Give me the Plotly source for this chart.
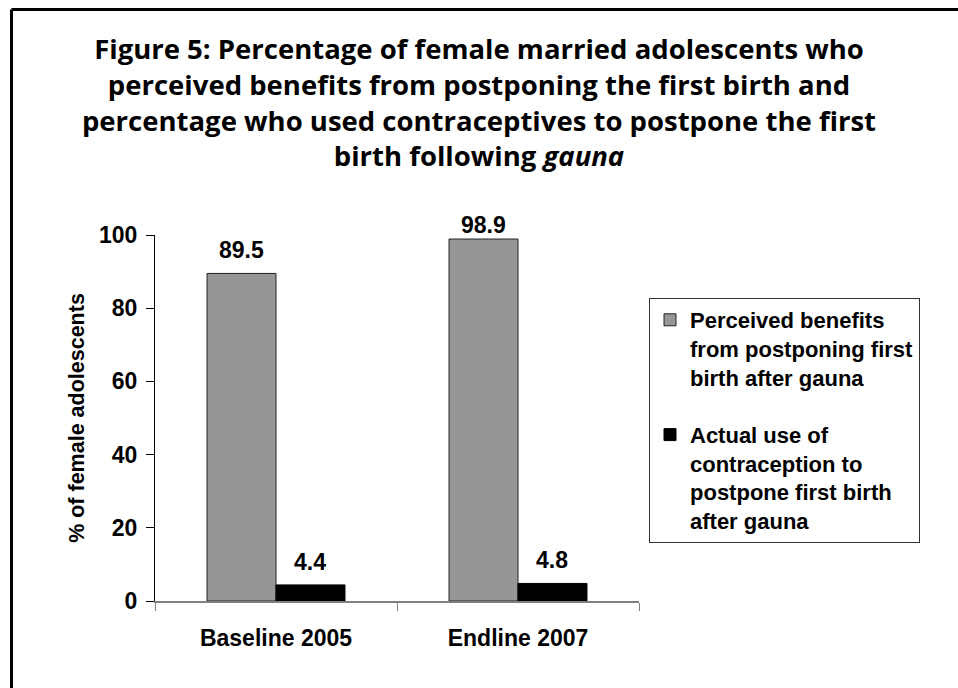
import plotly.graph_objects as go

categories = ["Baseline 2005", "Endline 2007"]
perceived = [89.5, 98.9]
actual_use = [4.4, 4.8]
series_names = [
    "Perceived benefits<br>from postponing first<br>birth after gauna",
    "Actual use of<br>contraception to<br>postpone first birth<br>after gauna",
]
y_ticks = [0, 20, 40, 60, 80, 100]

W, H = 958, 688
L, R, T, B = 155, 319, 235, 87
PW, PH = W - L - R, H - T - B

FONT = "Liberation Sans, Arial, sans-serif"

fig = go.Figure()
fig.add_trace(go.Bar(
    x=categories, y=perceived, name=series_names[0], legendgroup="a",
    marker=dict(color="#969696", line=dict(color="#222222", width=1)),
))
fig.add_trace(go.Bar(
    x=categories, y=actual_use, name=series_names[1], legendgroup="b",
    marker=dict(color="#000000", line=dict(color="#000000", width=1)),
))

bargap = 0.43
bar_px = PW / len(categories) * (1 - bargap) / 2
for k, vals in enumerate([perceived, actual_use]):
    for c, v in zip(categories, vals):
        fig.add_annotation(
            x=c, y=v, xref="x", yref="y", text=f"<b>{v}</b>",
            showarrow=False, xshift=(k - 0.5) * bar_px,
            yanchor="bottom", yshift=(-1 if v > 95 else 8),
            font=dict(family=FONT, size=23, color="black"),
        )

# outer frame (top and left edges)
x0 = (11.5 - L) / PW
y0 = (H - B - 9.5) / PH
fig.add_shape(type="line", xref="paper", yref="paper", x0=x0, x1=(W - L) / PW,
              y0=y0, y1=y0, line=dict(color="black", width=3))
fig.add_shape(type="line", xref="paper", yref="paper", x0=x0, x1=x0,
              y0=y0, y1=-B / PH, line=dict(color="black", width=3))

fig.update_layout(
    width=W, height=H,
    margin=dict(l=L, r=R, t=T, b=B),
    paper_bgcolor="white", plot_bgcolor="white",
    barmode="group", bargap=bargap, bargroupgap=0,
    title=dict(
        text=("Figure 5: Percentage of female married adolescents who<br>"
              "perceived benefits from postponing the first birth and<br>"
              "percentage who used contraceptives to postpone the first<br>"
              "birth following <i>gauna</i>"),
        x=0.5, xref="container", xanchor="center",
        y=1 - 59 / H, yref="container", yanchor="top",
        font=dict(family="Open Sans, Lato, sans-serif", size=27.5, color="black", weight="bold"),
    ),
    font=dict(family=FONT, color="black"),
    showlegend=True,
    legend=dict(
        x=(649 - L) / PW, y=(H - B - 298) / PH, xanchor="left", yanchor="top",
        bordercolor="#333333", borderwidth=1, bgcolor="white",
        font=dict(family=FONT, size=22, color="black", weight="bold"),
        valign="top", traceorder="grouped", tracegroupgap=26, itemwidth=30,
    ),
    xaxis=dict(
        showline=True, linecolor="#808080", linewidth=2,
        ticks="outside", tickson="boundaries", ticklen=8, tickcolor="#808080",
        tickfont=dict(family=FONT, size=23, color="black", weight="bold"),
        ticklabelstandoff=15, showgrid=False, zeroline=False,
    ),
    yaxis=dict(
        range=[0, 100], tickvals=y_ticks, showline=True, linecolor="black", linewidth=1,
        ticks="outside", ticklen=8, tickcolor="black",
        tickfont=dict(family=FONT, size=23, color="black", weight="bold"),
        ticklabelstandoff=4, showgrid=False, zeroline=False,
        title=dict(text="% of female adolescents", standoff=8,
                   font=dict(family=FONT, size=21.5, color="black", weight="bold")),
    ),
)

fig.write_html("out.html", config={"displayModeBar": False},
               post_script="document.body.style.margin='0';")
